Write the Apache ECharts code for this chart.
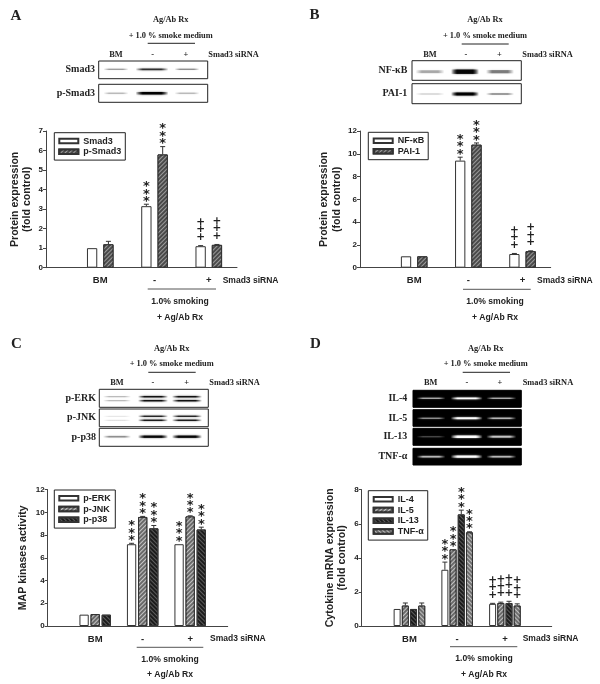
<!DOCTYPE html>
<html><head><meta charset="utf-8">
<style>html,body{margin:0;padding:0;background:#fff}#c{width:600px;height:684px;filter:blur(0.3px)}</style>
<script src="https://cdn.jsdelivr.net/npm/echarts@6/dist/echarts.min.js"></script>
</head><body><div id="c"></div>
<script>
// ---------- data ----------
const groupLabels = ['', 'BM', '-', '+'];
const namesA = ['Smad3', 'p-Smad3'];
const smad3 = [1, 3.15, 1.1];
const pSmad3 = [1.2, 5.8, 1.17];
const smad3Err = [0, 0.1, 0.03];
const pSmad3Err = [0.15, 0.4, 0.02];
const smad3Marks = ['', '***', '+++'];
const pSmad3Marks = ['', '***', '+++'];

const namesB = ['NF-κB', 'PAI-1'];
const nfkb = [1, 9.4, 1.2];
const pai1 = [1, 10.8, 1.45];
const nfkbErr = [0, 0.3, 0.05];
const pai1Err = [0, 0.15, 0.03];
const nfkbMarks = ['', '***', '+++'];
const pai1Marks = ['', '***', '+++'];

const namesC = ['p-ERK', 'p-JNK', 'p-p38'];
const pErk = [1, 7.2, 7.2];
const pJnk = [1.05, 9.6, 9.65];
const pP38 = [1, 8.6, 8.5];
const pErkErr = [0, 0.08, 0];
const pJnkErr = [0, 0.05, 0.05];
const pP38Err = [0, 0.25, 0.2];
const pErkMarks = ['', '***', '***'];
const pJnkMarks = ['', '***', '***'];
const pP38Marks = ['', '***', '***'];

const namesD = ['IL-4', 'IL-5', 'IL-13', 'TNF-α'];
const il4 = [1, 3.3, 1.3];
const il5 = [1.2, 4.5, 1.35];
const il13 = [1, 6.55, 1.35];
const tnf = [1.2, 5.5, 1.2];
const il4Err = [0, 0.45, 0.03];
const il5Err = [0.15, 0, 0.05];
const il13Err = [0, 0.25, 0.1];
const tnfErr = [0.15, 0.03, 0.1];
const il4Marks = ['', '***', '+++'];
const il5Marks = ['', '***', '+++'];
const il13Marks = ['', '***', '+++'];
const tnfMarks = ['', '***', '+++'];

// blot band intensities per lane (BM, -, +)
const blotSmad3 = [0.35, 0.75, 0.4];
const blotPSmad3 = [0.25, 1, 0.25];
const blotNfkb = [0.3, 0.95, 0.45];
const blotPai1 = [0.15, 1, 0.35];
const blotErk = [[0.3, 0.9, 0.9], [0.3, 0.9, 0.9]];
const blotJnk = [[0.12, 0.8, 0.8], [0.15, 0.85, 0.85]];
const blotP38 = [0.4, 0.95, 0.95];
const blotIl4 = [0.6, 1, 0.6];
const blotIl5 = [0.5, 1, 0.65];
const blotIl13 = [0.25, 1, 0.7];
const blotTnf = [0.65, 1, 0.65];

// ---------- styling helpers ----------
const INK = '#222';
const SERIF = '"Liberation Serif", serif';
const SANS = '"Liberation Sans", sans-serif';
function hatch(base, line, rot, dy) {
  return { color: base, borderColor: '#333', borderWidth: 1,
    decal: { symbol: 'rect', color: line, symbolSize: 1, dashArrayX: [1, 0], dashArrayY: [1, dy || 1.5], rotation: rot } };
}
const plain = { color: '#fff', borderColor: '#333', borderWidth: 1 };
const diagDark = hatch('#4a4a4a', '#9a9a9a', -Math.PI / 4, 1.5);
const diagMid = hatch('#6a6a6a', '#c4c4c4', -Math.PI / 4, 1.5);
const dotBlack = hatch('#1c1c1c', '#5c5c5c', Math.PI / 4, 1.5);

// ---------- panels ----------
const panels = [
  { letter: 'A', lx: 10.5, ly: 16,
    grid: { left: 46, right: 237, top: 131, bottom: 267.7 }, xMax: 3.52, yMax: 7, yInt: 1,
    yName: 'Protein expression\n(fold control)', nameGap: 12.5,
    names: namesA, vals: [smad3, pSmad3], errs: [smad3Err, pSmad3Err], marks: [smad3Marks, pSmad3Marks],
    styles: [plain, diagDark], barW: 10.3, gap: 6,
    legend: { left: 54.3, top: 132.7, tw: 36, pad: [3, 4, 3, 4] },
    foot: { sx: 222.7, sy: 281, ux1: 147.7, ux2: 216, uy: 289, cx: 180, y1: 302, y2: 317.3 },
    head: { cx: 170.7, y1: 20, y2: 35.7, lx1: 147.7, lx2: 195, ly: 43.3, y3: 55, bm: 116, minus: 152.7, plus: 186, sx: 208.3 },
    blot: { x1: 98.7, x2: 207.7, labelX: 95, dark: false, lanes: [116, 152, 187], widths: [25, 33, 25],
      rows: [
        { t: 'Smad3', y1: 61, y2: 78.7, bands: [69.3], i: [blotSmad3], th: 2 },
        { t: 'p-Smad3', y1: 84.3, y2: 102.3, bands: [93.3], i: [blotPSmad3], th: 2.5 }] } },
  { letter: 'B', lx: 309.5, ly: 15,
    grid: { left: 360, right: 550.7, top: 131, bottom: 267.7 }, xMax: 3.52, yMax: 12, yInt: 2,
    yName: 'Protein expression\n(fold control)', nameGap: 17,
    names: namesB, vals: [nfkb, pai1], errs: [nfkbErr, pai1Err], marks: [nfkbMarks, pai1Marks],
    styles: [plain, diagDark], barW: 10.3, gap: 6,
    legend: { left: 368.3, top: 132.3, tw: 25, pad: [3, 4, 3, 4.4] },
    foot: { sx: 537, sy: 281, ux1: 463, ux2: 530.7, uy: 289.3, cx: 495, y1: 302, y2: 317.3 },
    head: { cx: 485, y1: 20, y2: 36, lx1: 461.7, lx2: 508.7, ly: 44, y3: 55, bm: 430, minus: 466, plus: 499.3, sx: 522.3 },
    blot: { x1: 412, x2: 521.3, labelX: 407.3, dark: false, lanes: [430, 465, 500], widths: [29, 28, 28],
      rows: [
        { t: 'NF-κB', y1: 60.7, y2: 80.3, bands: [71.7], i: [blotNfkb], th: 4.5 },
        { t: 'PAI-1', y1: 83.7, y2: 103.7, bands: [94], i: [blotPai1], th: 3 }] } },
  { letter: 'C', lx: 11, ly: 344,
    grid: { left: 47.7, right: 227.7, top: 489.7, bottom: 626 }, xMax: 3.79, yMax: 12, yInt: 2,
    yName: 'MAP kinases activity', nameGap: 18,
    names: namesC, vals: [pErk, pJnk, pP38], errs: [pErkErr, pJnkErr, pP38Err], marks: [pErkMarks, pJnkMarks, pP38Marks],
    styles: [plain, diagMid, dotBlack], barW: 9.3, gap: 1.8,
    legend: { left: 54.3, top: 490, tw: 28, pad: [3, 4, 3, 4] },
    foot: { sx: 210, sy: 639, ux1: 136.7, ux2: 203.3, uy: 647.3, cx: 170, y1: 659.3, y2: 674.7 },
    head: { cx: 171.7, y1: 349, y2: 364.3, lx1: 148.3, lx2: 195.7, ly: 372.3, y3: 383.3, bm: 117, minus: 153, plus: 186.7, sx: 209.3 },
    blot: { x1: 99.3, x2: 208.3, labelX: 96, dark: false, lanes: [117, 153, 187], widths: [28, 30, 30],
      rows: [
        { t: 'p-ERK', y1: 389.3, y2: 407.3, bands: [396.7, 400.7], i: blotErk, th: 1.6 },
        { t: 'p-JNK', y1: 409, y2: 426.7, bands: [416.3, 420.3], i: blotJnk, th: 1.6 },
        { t: 'p-p38', y1: 428.3, y2: 446.3, bands: [436.7], i: [blotP38], th: 2.4 }] } },
  { letter: 'D', lx: 310, ly: 344,
    grid: { left: 361.7, right: 551.7, top: 489.7, bottom: 626 }, xMax: 3.98, yMax: 8, yInt: 2,
    yName: 'Cytokine mRNA expression\n(fold control)', nameGap: 13,
    names: namesD, vals: [il4, il5, il13, tnf], errs: [il4Err, il5Err, il13Err, tnfErr], marks: [il4Marks, il5Marks, il13Marks, tnfMarks],
    styles: [plain, diagMid, dotBlack, hatch('#707070', '#c0c0c0', Math.PI / 4, 1.5)], barW: 7, gap: 1.2,
    legend: { left: 368.3, top: 490.7, tw: 25, pad: [3.3, 4, 3.3, 4.4] },
    foot: { sx: 522.7, sy: 639, ux1: 450, ux2: 517.3, uy: 646.7, cx: 484, y1: 659, y2: 674.3 },
    head: { cx: 485.7, y1: 349, y2: 364.3, lx1: 462.7, lx2: 510, ly: 372.3, y3: 383.3, bm: 430.7, minus: 467, plus: 500, sx: 522.7 },
    blot: { x1: 413, x2: 521.3, labelX: 407.3, dark: true, lanes: [431, 466.7, 501.3], widths: [29, 32, 30],
      rows: [
        { t: 'IL-4', y1: 390.3, y2: 407.3, bands: [398.3], i: [blotIl4], th: 1.8 },
        { t: 'IL-5', y1: 409.7, y2: 426.3, bands: [418.3], i: [blotIl5], th: 2 },
        { t: 'IL-13', y1: 428.3, y2: 445.3, bands: [436.7], i: [blotIl13], th: 2.4 },
        { t: 'TNF-α', y1: 448.3, y2: 465, bands: [456.7], i: [blotTnf], th: 2.2 }] } }
];

// ---------- option building ----------
const W = 600, H = 684;
const option = { animation: false, backgroundColor: '#fff', textStyle: { fontFamily: SANS },
  grid: [], xAxis: [], yAxis: [], legend: [], series: [], graphic: { elements: [] } };
const G = option.graphic.elements;

function txt(text, x, y, font, align) {
  G.push({ type: 'text', silent: true, z: 20, style: { text, x, y, font, fill: INK, align: align || 'center', verticalAlign: 'middle' } });
}
function line(x1, y1, x2, y2, w, color) {
  G.push({ type: 'line', silent: true, z: 10, shape: { x1, y1, x2, y2 }, style: { stroke: color || '#222', lineWidth: w || 1 } });
}

panels.forEach((p, idx) => {
  const g = p.grid;
  option.grid.push({ left: g.left, top: g.top, width: g.right - g.left, height: g.bottom - g.top, containLabel: false });
  option.xAxis.push({ type: 'value', gridIndex: idx, min: 0, max: p.xMax, interval: 1, splitLine: { show: false },
    axisLine: { lineStyle: { color: '#444', width: 1 } }, axisTick: { show: false },
    axisLabel: { margin: 8, fontSize: 9.5, fontWeight: 'bold', color: INK, fontFamily: SANS,
      showMinLabel: false, showMaxLabel: false, formatter: v => groupLabels[v] || '' } });
  option.yAxis.push({ type: 'value', gridIndex: idx, min: 0, max: p.yMax, interval: p.yInt, splitLine: { show: false },
    axisLine: { show: true, lineStyle: { color: '#444', width: 1 } },
    axisTick: { show: true, length: 3, lineStyle: { color: '#444' } },
    axisLabel: { margin: 3, fontSize: 8, fontWeight: 'bold', color: INK, fontFamily: SANS },
    name: p.yName, nameLocation: 'middle', nameGap: p.nameGap, nameRotate: 90,
    nameTextStyle: { fontSize: 10.6, fontWeight: 'bold', color: INK, lineHeight: 12.6, fontFamily: SANS } });
  option.legend.push({ data: p.names, orient: 'vertical', left: p.legend.left, top: p.legend.top, padding: p.legend.pad,
    icon: 'rect', itemWidth: 19, itemHeight: 4.5, itemGap: 0, selectedMode: false, borderColor: '#222', borderWidth: 1, backgroundColor: '#fff', z: 6,
    textStyle: { fontSize: 9, fontWeight: 'bold', color: INK, lineHeight: 10.7, width: p.legend.tw, padding: [0, 0, 0, 0], fontFamily: SANS } });
  p.names.forEach((name, s) => {
    option.series.push({ type: 'bar', name, xAxisIndex: idx, yAxisIndex: idx, barWidth: p.barW, barGap: (p.gap / p.barW * 100) + '%',
      itemStyle: p.styles[s], data: p.vals[s].map((v, k) => [k + 1, v]), z: 3 });
  });
  // error bars and significance marks
  const rows = [];
  p.names.forEach((n, s) => p.vals[s].forEach((v, k) => rows.push([k + 1, v + p.errs[s][k], s, p.errs[s][k], p.marks[s][k], v])));
  const n = p.names.length;
  option.series.push({ type: 'custom', xAxisIndex: idx, yAxisIndex: idx, z: 4, silent: true, data: rows,
    encode: { x: 0, y: 1 },
    renderItem(params, api) {
      const gx = api.value(0), top = api.value(1), s = api.value(2), err = api.value(3);
      const mark = rows[params.dataIndex][4];
      const x = api.coord([gx, 0])[0] + (s - (n - 1) / 2) * (p.barW + p.gap);
      const yT = api.coord([gx, top])[1];
      const yB = api.coord([gx, top - err])[1];
      const children = [];
      if (err > 0) {
        const st = { stroke: '#333', lineWidth: 1 };
        children.push({ type: 'line', shape: { x1: x, y1: yB, x2: x, y2: yT }, style: st });
        children.push({ type: 'line', shape: { x1: x - 2.5, y1: yT, x2: x + 2.5, y2: yT }, style: st });
      }
      const star = mark[0] === '*';
      [...mark].forEach((ch, j) => {
        const cy = yT - (star ? 5.5 : 8.5) - j * 7.4;
        children.push({ type: 'text', style: { text: ch, x, y: cy + (star ? 2.8 : 0),
          font: star ? 'bold 13px "DejaVu Sans"' : 'bold 10.5px "DejaVu Sans"', fill: '#222', align: 'center', verticalAlign: 'middle' } });
      });
      return { type: 'group', children };
    } });

  // panel letter and footer
  txt(p.letter, p.lx, p.ly, 'bold 15px ' + SERIF, 'left');
  const f = p.foot;
  txt('Smad3 siRNA', f.sx, f.sy, 'bold 8.5px ' + SANS, 'left');
  line(f.ux1, f.uy, f.ux2, f.uy, 1, '#555');
  txt('1.0% smoking', f.cx, f.y1, 'bold 8.6px ' + SANS);
  txt('+ Ag/Ab Rx', f.cx, f.y2, 'bold 8.6px ' + SANS);

  // blot header
  const h = p.head;
  const hf = 'bold 8.4px ' + SERIF;
  txt('Ag/Ab Rx', h.cx, h.y1, hf);
  txt('+ 1.0 % smoke medium', h.cx, h.y2, hf);
  line(h.lx1, h.ly, h.lx2, h.ly, 1);
  txt('BM', h.bm, h.y3, hf);
  txt('-', h.minus, h.y3, hf);
  txt('+', h.plus, h.y3, hf);
  txt('Smad3 siRNA', h.sx, h.y3, hf, 'left');

  // blots
  const b = p.blot;
  b.rows.forEach(r => {
    G.push({ type: 'rect', silent: true, z: 10, shape: { x: b.x1, y: r.y1, width: b.x2 - b.x1, height: r.y2 - r.y1 },
      style: { fill: b.dark ? '#000' : '#fff', stroke: b.dark ? '#000' : '#222', lineWidth: 1 } });
    txt(r.t, b.labelX, (r.y1 + r.y2) / 2, 'bold 10px ' + SERIF, 'right');
    r.bands.forEach((yb, q) => {
      b.lanes.forEach((lx, k) => {
        const a = r.i[q][k];
        const rgb = b.dark ? '255,255,255' : '0,0,0';
        const c = 'rgba(' + rgb + ',' + a + ')';
        const th = r.th * (0.5 + 0.5 * a);
        G.push({ type: 'rect', silent: true, z: 11, shape: { x: lx - b.widths[k] / 2, y: yb - th / 2, width: b.widths[k], height: th },
          style: { fill: new echarts.graphic.LinearGradient(0, 0, 1, 0, [
            { offset: 0, color: 'rgba(' + rgb + ',0)' }, { offset: 0.22, color: c }, { offset: 0.78, color: c }, { offset: 1, color: 'rgba(' + rgb + ',0)' }]),
            shadowBlur: 2, shadowColor: 'rgba(' + rgb + ',' + (a * 0.7) + ')' } });
      });
    });
  });
});

const chart = echarts.init(document.getElementById('c'), null, { width: W, height: H, renderer: 'canvas' });
chart.setOption(option);
</script></body></html>
